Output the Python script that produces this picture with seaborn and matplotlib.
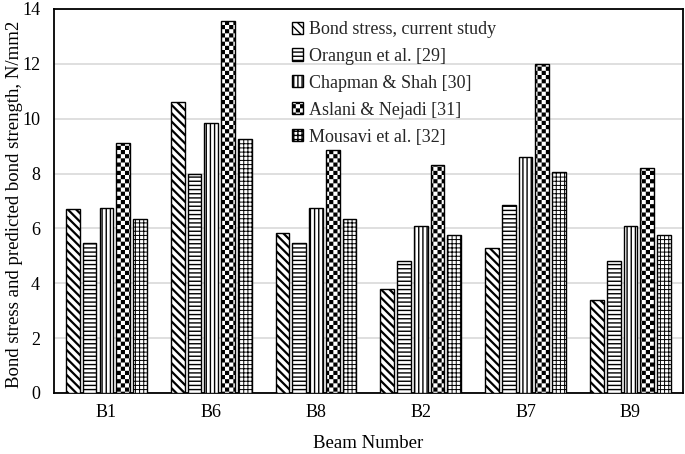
import numpy as np
import pandas as pd
import matplotlib
matplotlib.use("Agg")
import matplotlib.pyplot as plt
import matplotlib.hatch as mhatch
from matplotlib.path import Path
import seaborn as sns

beams = ["B1", "B6", "B8", "B2", "B7", "B9"]
series = ["Bond stress, current study", "Orangun et al. [29]", "Chapman & Shah [30]",
          "Aslani & Nejadi [31]", "Mousavi et al. [32]"]
bond_stress = [6.7, 10.6, 5.85, 3.8, 5.3, 3.4]
orangun = [5.45, 8.0, 5.45, 4.8, 6.85, 4.8]
chapman = [6.75, 9.85, 6.75, 6.1, 8.6, 6.1]
aslani = [9.1, 13.55, 8.85, 8.3, 12.0, 8.2]
mousavi = [6.35, 9.25, 6.35, 5.75, 8.05, 5.75]
yticks = [0, 2, 4, 6, 8, 10, 12, 14]

HATCH_LW = 1.0          # points
DPI = 100


# custom checkerboard hatch (replaces the '*' star hatch)
class CheckerHatch(mhatch.Shapes):
    filled = True
    size = 1.0

    def __init__(self, hatch, density):
        self.num_rows = int(hatch.count('*') * density)
        verts = []
        codes = []
        if self.num_rows > 0:
            unit_px = DPI / self.num_rows
            shrink = (HATCH_LW * DPI / 72.0) / unit_px
            side = max(0.25 - shrink, 0.06)
            for i in range(4):
                for j in range(4):
                    if (i + j) % 2 == 0:
                        cx = -0.375 + i * 0.25
                        cy = -0.375 + j * 0.25
                        h = side / 2
                        sq = [(cx - h, cy - h), (cx + h, cy - h), (cx + h, cy + h),
                              (cx - h, cy + h), (cx - h, cy - h)]
                        verts += sq
                        codes += [Path.MOVETO, Path.LINETO, Path.LINETO,
                                  Path.LINETO, Path.CLOSEPOLY]
            self.shape_vertices = np.array(verts, dtype=float)
            self.shape_codes = np.array(codes, dtype=Path.code_type)
        else:
            self.shape_vertices = np.zeros((0, 2))
            self.shape_codes = np.zeros(0, dtype=Path.code_type)
        super().__init__(hatch, density)


mhatch._hatch_types = [h for h in mhatch._hatch_types if h is not mhatch.Stars] + [CheckerHatch]

sns.set_theme(style="white")
plt.rcParams['font.family'] = ['Liberation Serif', 'DejaVu Serif']
plt.rcParams['hatch.linewidth'] = HATCH_LW
plt.rcParams['hatch.color'] = 'black'

rows = []
for name, vals in zip(series, [bond_stress, orangun, chapman, aslani, mousavi]):
    for b, v in zip(beams, vals):
        rows.append({"Beam": b, "Series": name, "Value": v})
df = pd.DataFrame(rows)

fig = plt.figure(figsize=(6.85, 4.54), dpi=DPI)
ax = fig.add_axes([0.0788, 0.1344, 0.918, 0.8458])

sns.barplot(data=df, x="Beam", y="Value", hue="Series", order=beams, hue_order=series,
            palette=["white"] * 5, edgecolor="black", linewidth=1.0,
            width=0.8, gap=0.18, legend=False, ax=ax, zorder=3)

hatches = ['\\\\\\\\', '----', '||||', '*', '++++']
hatch_lws = [1.6, 1.0, 1.0, 1.0, 0.7]
for cont, h, hl in zip(ax.containers, hatches, hatch_lws):
    for bar in cont:
        bar.set_hatch(h)
        if hasattr(bar, "set_hatch_linewidth"):
            bar.set_hatch_linewidth(hl)

ax.set_ylim(0, 14)
ax.set_yticks(yticks)
ax.set_xlim(-0.5, 5.5)
ax.yaxis.grid(True, color="#d9d9d9", linewidth=1.2, zorder=0)
ax.set_axisbelow(True)
for s in ax.spines.values():
    s.set_visible(True)
    s.set_color("black")
    s.set_linewidth(1.3)
ax.tick_params(axis="both", length=0, labelsize=13, colors="black")
ax.tick_params(axis="x", pad=8)
ax.tick_params(axis="y", pad=10)
ax.set_xlabel("Beam Number", fontsize=13.5, labelpad=10, color="black")
ax.set_ylabel("Bond stress and predicted bond strength, N/mm2", fontsize=13.5,
              color="black")
ax.yaxis.set_label_coords(-0.049, 0.49)

ax.legend(ax.containers, series, loc="upper left", bbox_to_anchor=(0.378, 0.969),
          frameon=False, fontsize=13, handlelength=0.65, handleheight=0.65,
          handletextpad=0.3, labelspacing=0.55, borderpad=0, borderaxespad=0)

fig.savefig("out.png", dpi=DPI)
